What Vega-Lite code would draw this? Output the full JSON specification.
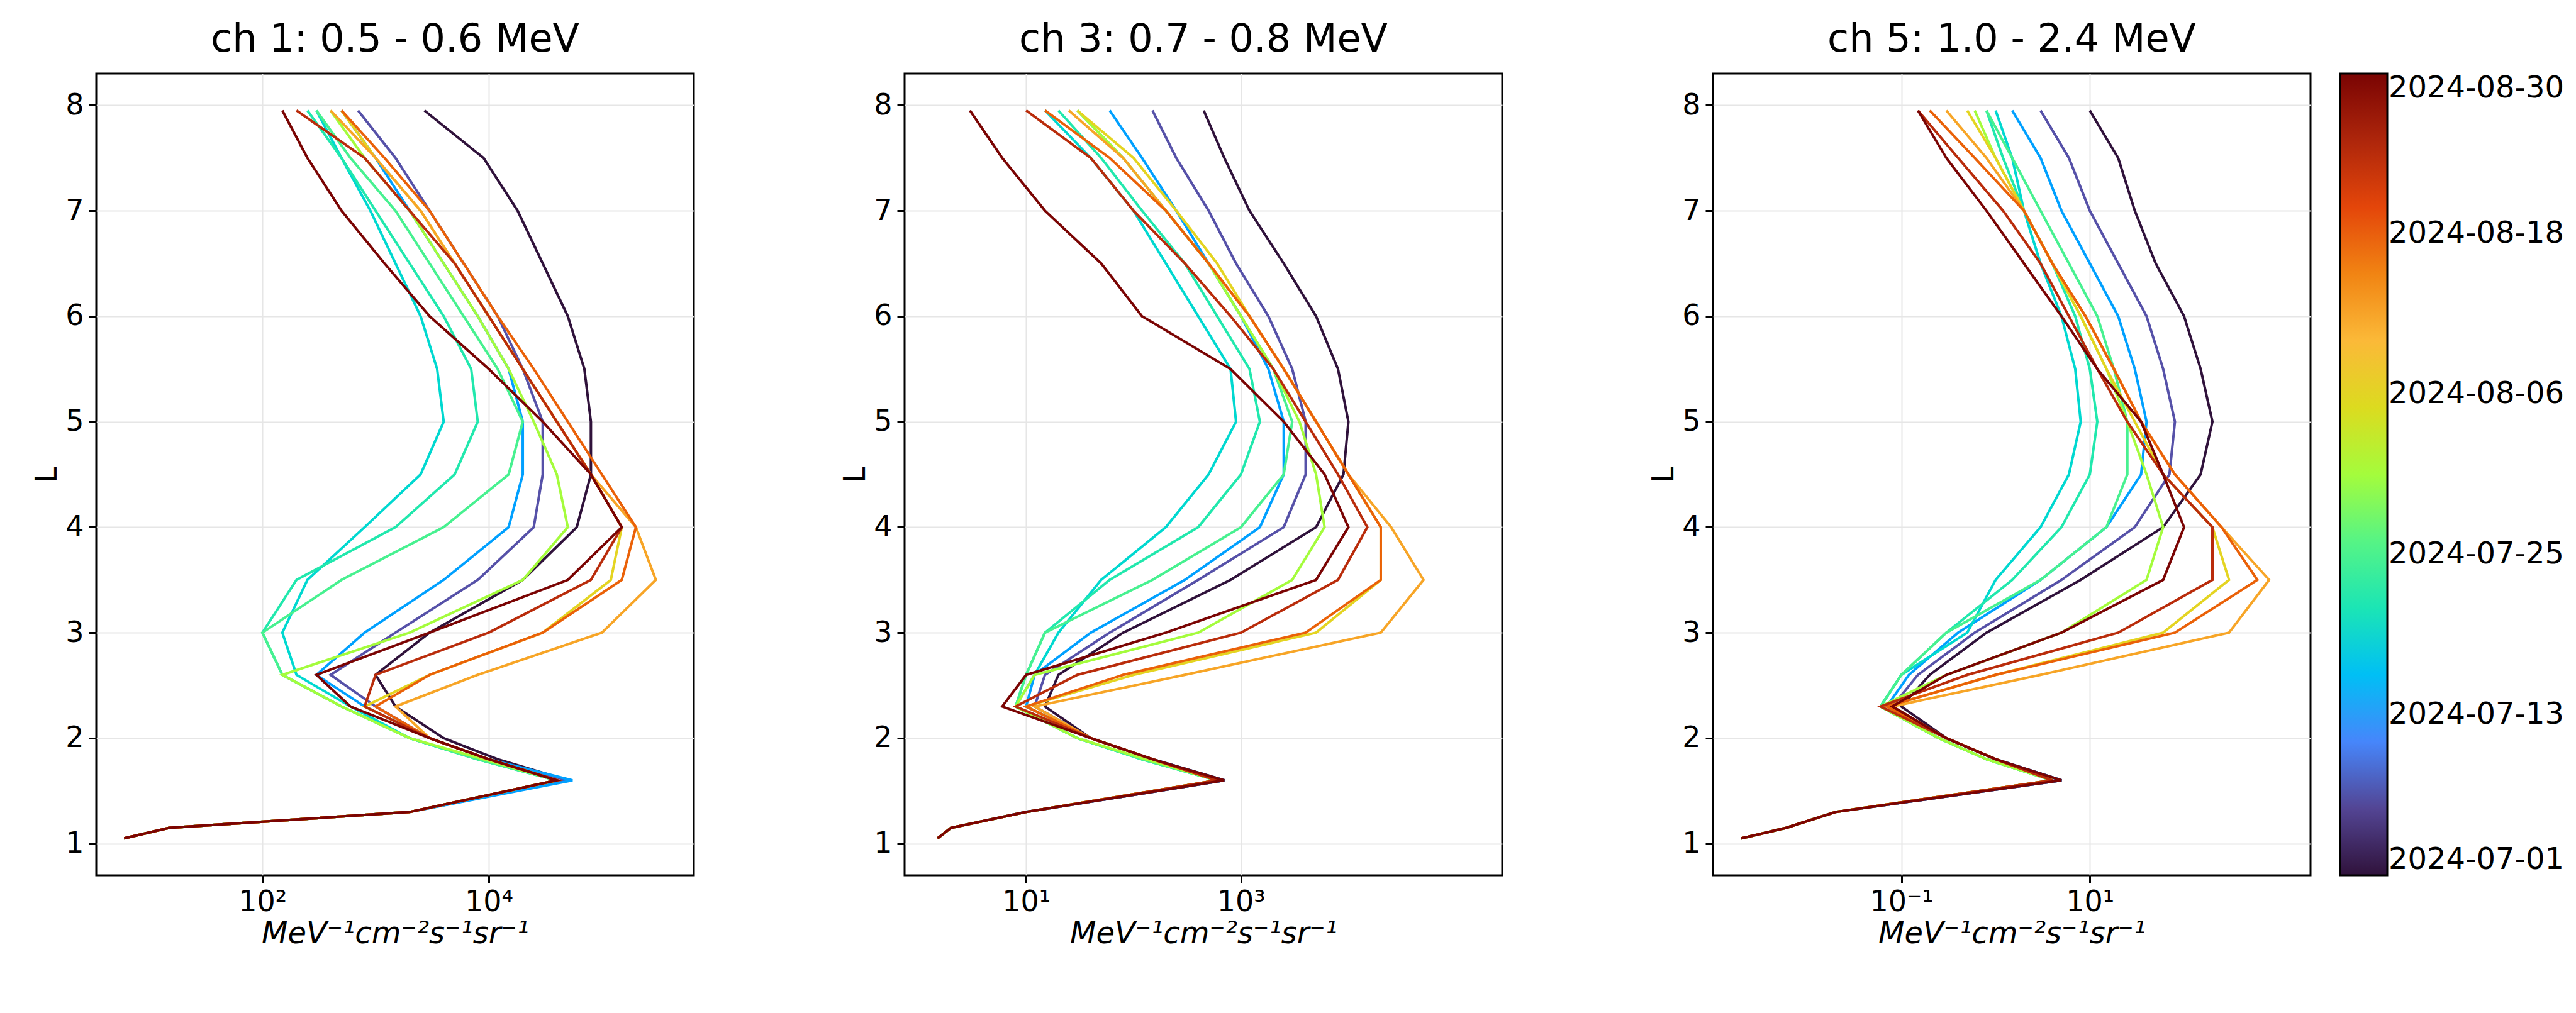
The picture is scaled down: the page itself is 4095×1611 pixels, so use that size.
{
"$schema":"https://vega.github.io/schema/vega-lite/v6.json",
"background":"white",
"padding":{"left":50,"top":30,"right":20,"bottom":10},
"config":{"font":"DejaVu Sans","view":{"stroke":"black","strokeWidth":3},
"axis":{"labelFontSize":46,"titleFontSize":48,"titleFontWeight":"normal","gridColor":"#e6e6e6","gridWidth":2,"domain":false,"tickColor":"black","tickWidth":3,"tickSize":12,"labelColor":"black","titleColor":"black","labelPadding":8},
"title":{"fontSize":62,"fontWeight":"normal","offset":22},
"legend":{"gradientLength":1275,"gradientThickness":75,"labelFontSize":48,"gradientStrokeColor":"black","gradientStrokeWidth":3,"labelOffset":14,"offset":45},
"line":{"strokeWidth":4,"clip":true}},
"data":{"values":[
{"ch":1,"day":0,"f":[6,15,2000,5e4,1.2e4,4e3,1.5e3,1e3,3e3,2e4,6e4,8e4,8e4,7e4,5e4,3e4,1.8e4,9e3,2.7e3]},
{"ch":1,"day":6,"f":[6,15,2000,5e4,1e4,3e3,1e3,400,1500,8000,2.5e4,3e4,3e4,2e4,1.2e4,6e3,3e3,1.5e3,700]},
{"ch":1,"day":12,"f":[6,15,2000,5.5e4,1e4,3e3,800,300,800,4000,1.5e4,2e4,2e4,1.5e4,8e3,4e3,2e3,1e3,500]},
{"ch":1,"day":18,"f":[6,15,2000,4e4,8e3,2e3,600,200,150,250,800,2500,4000,3500,2500,1500,900,500,300]},
{"ch":1,"day":21,"f":[6,15,2000,4e4,8e3,2e3,500,150,100,200,1500,5000,8000,7000,4000,2000,1000,500,250]},
{"ch":1,"day":24,"f":[6,15,2000,4e4,8e3,2e3,500,150,100,500,4000,1.5e4,2e4,1.2e4,6e3,3e3,1500,600,300]},
{"ch":1,"day":30,"f":[6,15,2000,4e4,9e3,2e3,500,150,2000,2e4,5e4,4e4,2.5e4,1.5e4,8e3,4e3,2e3,800,400]},
{"ch":1,"day":36,"f":[6,15,2000,4e4,1e4,3e3,800,3000,3e4,1.2e5,1.5e5,8e4,4e4,2e4,1e4,5e3,2.5e3,1e3,500]},
{"ch":1,"day":42,"f":[6,15,2000,4e4,1e4,3e3,1500,8000,1e5,3e5,2e5,8e4,4e4,2e4,1e4,5e3,2.5e3,1e3,400]},
{"ch":1,"day":48,"f":[6,15,2000,4e4,1e4,3e3,1000,3000,3e4,1.5e5,2e5,1e5,5e4,2.5e4,1.2e4,6e3,3e3,1.2e3,500]},
{"ch":1,"day":54,"f":[6,15,2000,4e4,1e4,3e3,800,1000,1e4,8e4,1.5e5,8e4,4e4,2e4,1e4,5e3,2e3,800,200]},
{"ch":1,"day":60,"f":[6,15,2000,4e4,1e4,3e3,600,300,3000,5e4,1.5e5,8e4,3e4,1e4,3000,1200,500,250,150]},
{"ch":3,"day":0,"f":[1.5,2,10,700,150,40,15,20,80,800,5000,9000,1e4,8000,5000,2500,1200,700,450]},
{"ch":3,"day":6,"f":[1.5,2,10,700,150,40,12,15,60,400,2500,4000,4000,3000,1800,900,500,250,150]},
{"ch":3,"day":12,"f":[1.5,2,10,700,150,40,10,12,40,300,1500,2500,2500,1800,1000,500,250,120,60]},
{"ch":3,"day":18,"f":[1.5,2,10,600,120,30,8,12,20,50,200,500,900,800,400,200,100,40,15]},
{"ch":3,"day":21,"f":[1.5,2,10,600,120,30,8,10,15,60,400,1000,1500,1200,600,300,120,50,20]},
{"ch":3,"day":24,"f":[1.5,2,10,600,120,30,8,10,15,150,1000,2500,3000,2000,1000,500,200,80,30]},
{"ch":3,"day":30,"f":[1.5,2,10,600,130,30,8,12,400,3000,6000,5000,3500,2000,1000,500,200,80,30]},
{"ch":3,"day":36,"f":[1.5,2,10,600,150,40,10,100,5000,2e4,2e4,1e4,5000,2500,1200,600,250,100,30]},
{"ch":3,"day":42,"f":[1.5,2,10,600,150,40,12,300,2e4,5e4,2.5e4,1e4,5000,2500,1200,500,200,80,25]},
{"ch":3,"day":48,"f":[1.5,2,10,600,150,40,10,80,4000,2e4,2e4,1e4,5000,2500,1200,500,200,60,15]},
{"ch":3,"day":54,"f":[1.5,2,10,600,150,40,8,30,1000,8000,1.5e4,8000,4000,2000,800,300,100,40,10]},
{"ch":3,"day":60,"f":[1.5,2,10,700,150,40,6,10,200,5000,1e4,6000,2500,800,120,50,15,6,3]},
{"ch":5,"day":0,"f":[0.002,0.006,0.02,5,1,0.3,0.1,0.2,0.8,8,60,150,200,150,100,50,30,20,10]},
{"ch":5,"day":6,"f":[0.002,0.006,0.02,5,1,0.3,0.08,0.15,0.6,5,30,70,80,60,40,20,10,6,3]},
{"ch":5,"day":12,"f":[0.002,0.006,0.02,5,1,0.3,0.07,0.12,0.4,3,15,35,40,30,20,10,5,3,1.5]},
{"ch":5,"day":18,"f":[0.002,0.006,0.02,4,0.8,0.25,0.06,0.1,0.5,1,3,6,8,7,5,3,2,1.5,1]},
{"ch":5,"day":21,"f":[0.002,0.006,0.02,4,0.8,0.25,0.06,0.1,0.3,1.5,5,10,12,10,7,4,2,1.2,0.8]},
{"ch":5,"day":24,"f":[0.002,0.006,0.02,4,0.8,0.25,0.06,0.1,0.3,3,15,25,25,18,12,6,3,1.5,0.8]},
{"ch":5,"day":30,"f":[0.002,0.006,0.02,4,0.8,0.25,0.06,0.3,5,40,60,40,25,15,8,4,2,1,0.6]},
{"ch":5,"day":36,"f":[0.002,0.006,0.02,4,1,0.3,0.07,1,60,300,200,60,30,15,8,4,2,1,0.5]},
{"ch":5,"day":42,"f":[0.002,0.006,0.02,4,1,0.3,0.08,3,300,800,250,80,35,18,9,4,2,0.8,0.3]},
{"ch":5,"day":48,"f":[0.002,0.006,0.02,4,1,0.3,0.07,1,80,600,250,80,35,18,9,4,2,0.6,0.2]},
{"ch":5,"day":54,"f":[0.002,0.006,0.02,4,1,0.3,0.06,0.5,20,200,200,60,25,12,6,3,1.2,0.4,0.15]},
{"ch":5,"day":60,"f":[0.002,0.006,0.02,5,1,0.3,0.08,0.3,5,60,100,60,35,12,5,2,0.8,0.3,0.15]}
]},
"spacing":230,
"hconcat":[
{"title":"ch 1: 0.5 - 0.6 MeV","width":950,"height":1275,
"transform":[{"filter":"datum.ch==1"},{"calculate":"[1.05,1.15,1.3,1.6,1.8,2.0,2.3,2.6,3.0,3.5,4.0,4.5,5.0,5.5,6.0,6.5,7.0,7.5,7.95]","as":"Ls"},{"flatten":["f","Ls"]}],
"mark":"line",
"encoding":{"x":{"field":"f","type":"quantitative","scale":{"type":"log","domain":[3.4,6.5e5],"nice":false},"axis":{"values":[100,10000],"labelExpr":"datum.value==100?'10²':'10⁴'","title":"MeV⁻¹cm⁻²s⁻¹sr⁻¹","titleFontStyle":"italic"}},
"y":{"field":"Ls","type":"quantitative","scale":{"domain":[0.7,8.3],"nice":false,"zero":false},"axis":{"values":[1,2,3,4,5,6,7,8],"title":"L"}},
"color":{"field":"day","type":"quantitative","scale":{"domain":[0,10,20,30,40,50,60],"range":["#30123b","#4686fb","#1be5b5","#a4fc3c","#fbb938","#e4460a","#7a0403"]},"legend":{"title":null,"values":[0,12,24,36,48,60],"labelBaseline":"middle","labelExpr":"utcFormat(1719792000000+datum.value*86400000,'%Y-%m-%d')"}},
"detail":{"field":"day"},"order":{"field":"Ls","type":"quantitative"}}},
{"title":"ch 3: 0.7 - 0.8 MeV","width":950,"height":1275,
"transform":[{"filter":"datum.ch==3"},{"calculate":"[1.05,1.15,1.3,1.6,1.8,2.0,2.3,2.6,3.0,3.5,4.0,4.5,5.0,5.5,6.0,6.5,7.0,7.5,7.95]","as":"Ls"},{"flatten":["f","Ls"]}],
"mark":"line",
"encoding":{"x":{"field":"f","type":"quantitative","scale":{"type":"log","domain":[0.74,2.7e5],"nice":false},"axis":{"values":[10,1000],"labelExpr":"datum.value==10?'10¹':'10³'","title":"MeV⁻¹cm⁻²s⁻¹sr⁻¹","titleFontStyle":"italic"}},
"y":{"field":"Ls","type":"quantitative","scale":{"domain":[0.7,8.3],"nice":false,"zero":false},"axis":{"values":[1,2,3,4,5,6,7,8],"title":"L"}},
"color":{"field":"day","type":"quantitative"},
"detail":{"field":"day"},"order":{"field":"Ls","type":"quantitative"}}},
{"title":"ch 5: 1.0 - 2.4 MeV","width":950,"height":1275,
"transform":[{"filter":"datum.ch==5"},{"calculate":"[1.05,1.15,1.3,1.6,1.8,2.0,2.3,2.6,3.0,3.5,4.0,4.5,5.0,5.5,6.0,6.5,7.0,7.5,7.95]","as":"Ls"},{"flatten":["f","Ls"]}],
"mark":"line",
"encoding":{"x":{"field":"f","type":"quantitative","scale":{"type":"log","domain":[0.001,2200],"nice":false},"axis":{"values":[0.1,10],"labelExpr":"datum.value<1?'10⁻¹':'10¹'","title":"MeV⁻¹cm⁻²s⁻¹sr⁻¹","titleFontStyle":"italic"}},
"y":{"field":"Ls","type":"quantitative","scale":{"domain":[0.7,8.3],"nice":false,"zero":false},"axis":{"values":[1,2,3,4,5,6,7,8],"title":"L"}},
"color":{"field":"day","type":"quantitative"},
"detail":{"field":"day"},"order":{"field":"Ls","type":"quantitative"}}}
]
}
